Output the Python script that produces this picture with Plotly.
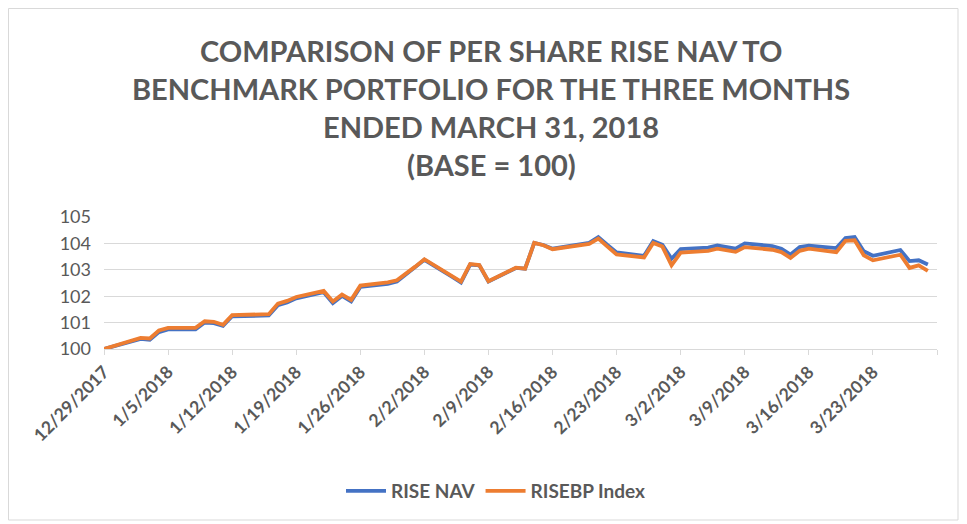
import plotly.graph_objects as go
import pandas as pd

dates = ["2017-12-29", "2018-01-02", "2018-01-03", "2018-01-04", "2018-01-05", "2018-01-08",
         "2018-01-09", "2018-01-10", "2018-01-11", "2018-01-12", "2018-01-16", "2018-01-17",
         "2018-01-18", "2018-01-19", "2018-01-22", "2018-01-23", "2018-01-24", "2018-01-25",
         "2018-01-26", "2018-01-29", "2018-01-30", "2018-01-31", "2018-02-01", "2018-02-02",
         "2018-02-05", "2018-02-06", "2018-02-07", "2018-02-08", "2018-02-09", "2018-02-12",
         "2018-02-13", "2018-02-14", "2018-02-15", "2018-02-16", "2018-02-20", "2018-02-21",
         "2018-02-22", "2018-02-23", "2018-02-26", "2018-02-27", "2018-02-28", "2018-03-01",
         "2018-03-02", "2018-03-05", "2018-03-06", "2018-03-07", "2018-03-08", "2018-03-09",
         "2018-03-12", "2018-03-13", "2018-03-14", "2018-03-15", "2018-03-16", "2018-03-19",
         "2018-03-20", "2018-03-21", "2018-03-22", "2018-03-23", "2018-03-26", "2018-03-27",
         "2018-03-28", "2018-03-29"]

rise_nav = [100.00, 100.38, 100.35, 100.64, 100.74, 100.74,
            101.00, 100.98, 100.88, 101.24, 101.27, 101.66,
            101.76, 101.92, 102.15, 101.74, 102.01, 101.80,
            102.35, 102.47, 102.56, 102.82, 103.09, 103.38,
            102.74, 102.52, 103.20, 103.17, 102.56, 103.07,
            103.04, 104.02, 103.94, 103.80, 104.02, 104.24,
            103.94, 103.66, 103.53, 104.09, 103.95, 103.42,
            103.78, 103.84, 103.92, 103.87, 103.80, 104.00,
            103.90, 103.80, 103.58, 103.86, 103.91, 103.82,
            104.20, 104.24, 103.70, 103.53, 103.75, 103.33,
            103.36, 103.20]

risebp_index = [100.00, 100.42, 100.40, 100.70, 100.80, 100.80,
                101.05, 101.03, 100.92, 101.28, 101.32, 101.72,
                101.82, 101.97, 102.20, 101.80, 102.06, 101.86,
                102.40, 102.52, 102.60, 102.85, 103.12, 103.40,
                102.78, 102.55, 103.22, 103.18, 102.57, 103.08,
                103.04, 104.02, 103.93, 103.78, 103.98, 104.18,
                103.88, 103.58, 103.47, 104.02, 103.88, 103.17,
                103.65, 103.72, 103.80, 103.74, 103.68, 103.86,
                103.76, 103.67, 103.45, 103.72, 103.80, 103.67,
                104.10, 104.12, 103.55, 103.36, 103.57, 103.07,
                103.17, 102.96]

title_lines = ["COMPARISON OF PER SHARE RISE NAV TO",
               "BENCHMARK PORTFOLIO FOR THE THREE MONTHS",
               "ENDED MARCH 31, 2018",
               "(BASE = 100)"]

tick_dates = pd.date_range("2017-12-29", "2018-03-30", freq="7D")
tick_labels = [f"{d.month}/{d.day}/{d.year}" for d in tick_dates]
tick_labels[-1] = ""

# page body has an 8px margin; figure is sized/positioned to compensate
OFF = 8
W, H = 967 - OFF, 524 - OFF
L, R, T, B = 104 - OFF, 937 - OFF, 217 - OFF, 349 - OFF  # plot area in figure pixels

FONT = "Lato"
GRAY = "#595959"

fig = go.Figure()
fig.add_trace(go.Scatter(x=dates, y=rise_nav, mode="lines", name="RISE NAV",
                         line=dict(color="#4472C4", width=3.8)))
fig.add_trace(go.Scatter(x=dates, y=risebp_index, mode="lines", name="RISEBP Index",
                         line=dict(color="#ED7D31", width=3.8)))

def px_x(x):
    return (x - OFF - L) / (R - L)

def px_y(y):
    return (B - (y - OFF)) / (B - T)

annotations = []
for line, yc in zip(title_lines, [50, 88, 126, 164]):
    annotations.append(dict(text=f"<b>{line}</b>", x=px_x(491), y=px_y(yc),
                            xref="paper", yref="paper", xanchor="center", yanchor="middle",
                            showarrow=False, font=dict(family=FONT, size=29, color=GRAY)))

fig.update_layout(
    width=W, height=H,
    margin=dict(l=L, r=W - R, t=T, b=H - B, pad=0),
    paper_bgcolor="white", plot_bgcolor="white",
    font=dict(family=FONT, color=GRAY, size=14),
    showlegend=True,
    legend=dict(orientation="h", x=px_x(496), xanchor="center", y=px_y(491), yanchor="middle",
                font=dict(family=FONT, size=19, color=GRAY, weight="bold"), itemwidth=40,
                bgcolor="rgba(0,0,0,0)"),
    annotations=annotations,
    shapes=[dict(type="rect", xref="paper", yref="paper",
                 x0=px_x(8.5), x1=px_x(958), y0=px_y(520), y1=px_y(8.5),
                 line=dict(color="#d9d9d9", width=1), fillcolor="rgba(0,0,0,0)", layer="below")],
)

fig.update_xaxes(type="date", range=["2017-12-29", "2018-03-30"],
                 tickmode="array", tickvals=tick_dates, ticktext=tick_labels,
                 tickangle=-45, ticks="outside", ticklen=5, tickcolor="#d9d9d9",
                 showline=True, linecolor="#d9d9d9", linewidth=1,
                 showgrid=False, zeroline=False,
                 tickfont=dict(family=FONT, size=17.5, color=GRAY, weight="bold"))
fig.update_yaxes(range=[100, 105], dtick=1, showgrid=True, gridcolor="#d9d9d9", gridwidth=1,
                 zeroline=False, showline=False, ticks="",
                 ticklabelstandoff=12,
                 tickfont=dict(family=FONT, size=18, color=GRAY))

fig.write_html("out.html")
